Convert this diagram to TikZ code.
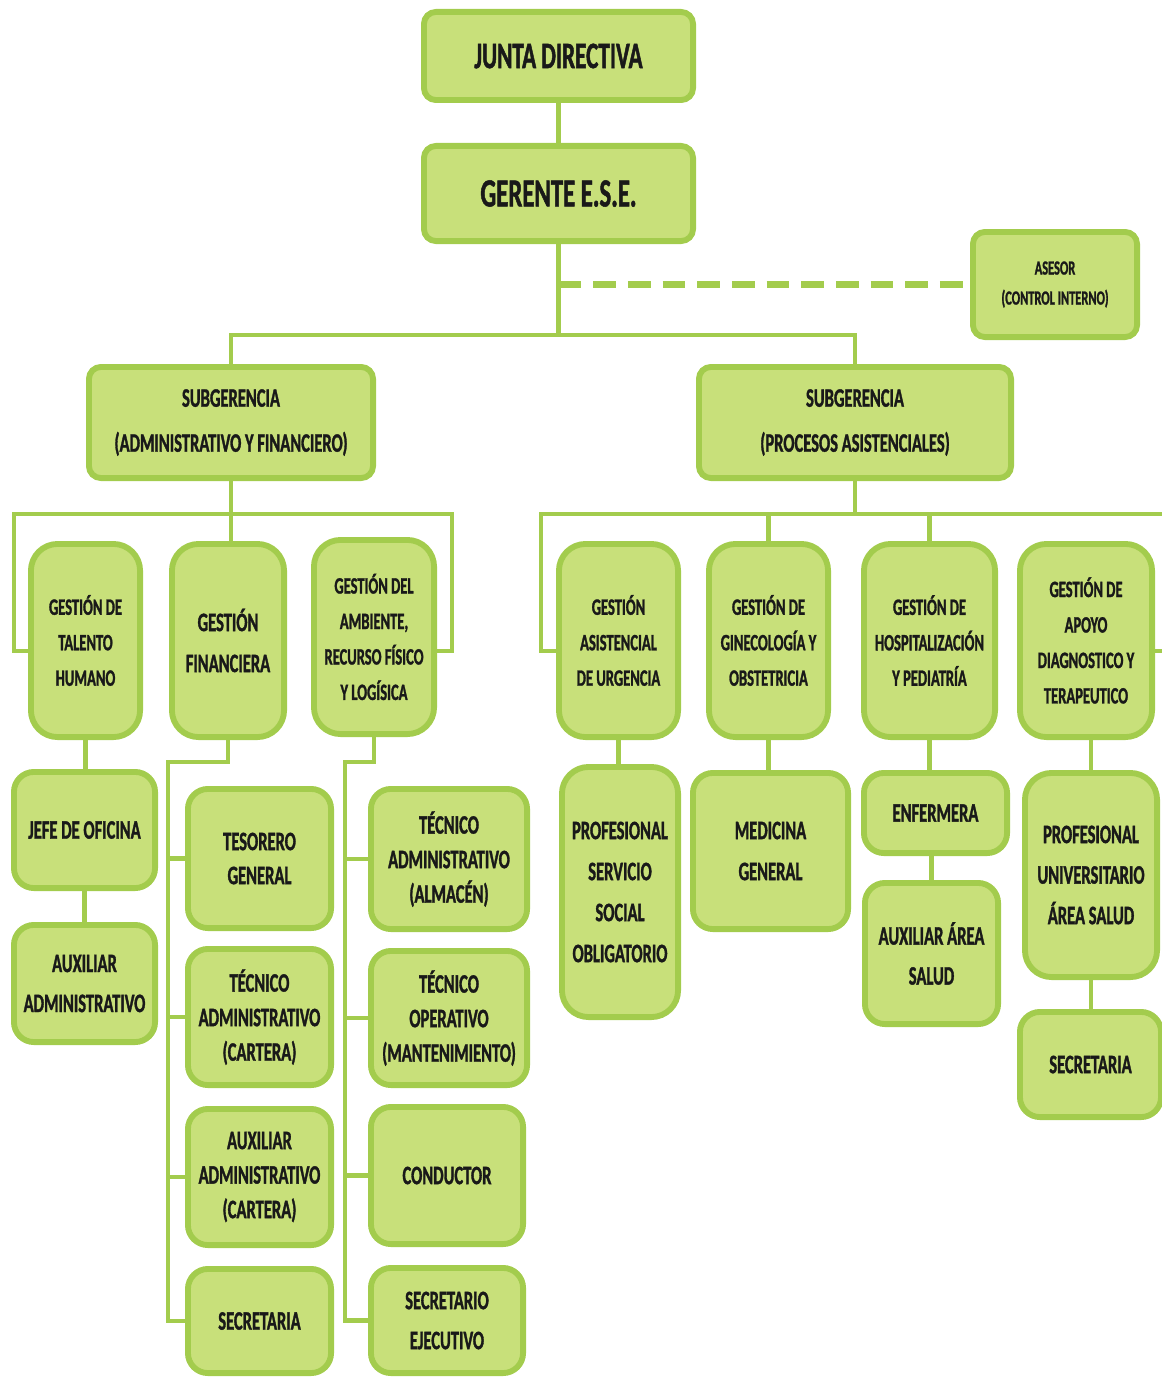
\documentclass[tikz,border=0pt]{standalone}
\usepackage{fontspec}
\setmainfont{Carlito}[FakeStretch=0.62, BoldFeatures={FakeBold=1.2}]
\definecolor{boxfill}{RGB}{200,224,122}
\definecolor{boxline}{RGB}{163,204,77}
\newcommand\orgbox[7][]{%
  \node[ob,#1,minimum width={(#5-#3)*0.75pt-4.4pt},minimum height={(#6-#4)*0.75pt-4.4pt}] (#2) at ({(#3+#5)/2},{(#4+#6)/2}) {#7};}
\tikzset{
  ob/.style={draw=boxline, fill=boxfill, line width=4.4pt, rounded corners=15pt, align=center, inner sep=0pt, text=black!90},
  fA/.style={font=\bfseries\fontsize{28}{34}\selectfont},
  fAA/.style={font=\bfseries\fontsize{30}{36}\selectfont},
  fB/.style={font=\bfseries\fontsize{20}{#1}\selectfont},
  fC/.style={font=\bfseries\fontsize{17.6}{26.6}\selectfont},
  fD/.style={font=\bfseries\fontsize{15}{22.5}\selectfont},
  rs/.style={rounded corners=9pt},
  rl/.style={rounded corners=20pt},
  conn/.style={draw=boxline, line width=3.6pt},
  dashline/.style={draw=boxline, line width=5.5pt, dash pattern=on 17pt off 9pt},
}
\begin{document}
\begin{tikzpicture}[x=0.75pt,y=-0.75pt]
\useasboundingbox (0,0) rectangle (1162,1377);
\clip (0,0) rectangle (1162,1377);
% top
\orgbox[fA,rs]{jd}{421}{9}{696}{103}{JUNTA DIRECTIVA}
\orgbox[fAA,rs]{ger}{421}{143}{696}{244}{GERENTE E.S.E.}
\orgbox[fD,rs]{ase}{970}{229}{1140}{340}{ASESOR\\(CONTROL INTERNO)}
\orgbox[fB=33.75,rs]{subA}{86}{364}{376}{481}{SUBGERENCIA\\(ADMINISTRATIVO Y FINANCIERO)}
\orgbox[fB=33.75,rs]{subP}{696}{364}{1014}{481}{SUBGERENCIA\\(PROCESOS ASISTENCIALES)}
% level 3
\orgbox[fC,rl]{tal}{28}{541}{143}{740}{GESTIÓN DE\\TALENTO\\HUMANO}
\orgbox[fB=30.75,rl]{fin}{169}{541}{287}{740}{GESTIÓN\\FINANCIERA}
\orgbox[fC,rl]{amb}{311}{537}{437}{737}{GESTIÓN DEL\\AMBIENTE,\\RECURSO FÍSICO\\Y LOGÍSICA}
\orgbox[fC,rl]{urg}{556}{541}{681}{740}{GESTIÓN\\ASISTENCIAL\\DE URGENCIA}
\orgbox[fC,rl]{gin}{706}{541}{831}{740}{GESTIÓN DE\\GINECOLOGÍA Y\\OBSTETRICIA}
\orgbox[fC,rl]{hos}{861}{541}{998}{740}{GESTIÓN DE\\HOSPITALIZACIÓN\\Y PEDIATRÍA}
\orgbox[fC,rl]{apo}{1017}{541}{1155}{740}{GESTIÓN DE\\APOYO\\DIAGNOSTICO Y\\TERAPEUTICO}
% level 4 left
\orgbox[fB=30]{jefe}{11}{769}{158}{891}{JEFE DE OFICINA}
\orgbox[fB=30]{auxA}{11}{922}{158}{1045}{AUXILIAR\\ADMINISTRATIVO}
\orgbox[fB=25.5]{tes}{185}{786}{334}{931}{TESORERO\\GENERAL}
\orgbox[fB=25.9]{tcar}{185}{946}{334}{1088}{TÉCNICO\\ADMINISTRATIVO\\(CARTERA)}
\orgbox[fB=25.9]{acar}{185}{1106}{334}{1248}{AUXILIAR\\ADMINISTRATIVO\\(CARTERA)}
\orgbox[fB=30]{sec1}{185}{1266}{334}{1376}{SECRETARIA}
\orgbox[fB=25.9]{talm}{368}{786}{530}{932}{TÉCNICO\\ADMINISTRATIVO\\(ALMACÉN)}
\orgbox[fB=25.9]{top}{368}{948}{530}{1088}{TÉCNICO\\OPERATIVO\\(MANTENIMIENTO)}
\orgbox[fB=30]{con}{368}{1104}{526}{1247}{CONDUCTOR}
\orgbox[fB=30]{sej}{368}{1265}{526}{1376}{SECRETARIO\\EJECUTIVO}
% level 4 right
\orgbox[fB=30.75,rl]{pss}{559}{764}{681}{1020}{PROFESIONAL\\SERVICIO\\SOCIAL\\OBLIGATORIO}
\orgbox[fB=30.75]{med}{690}{770}{851}{932}{MEDICINA\\GENERAL}
\orgbox[fB=30]{enf}{861}{770}{1010}{856}{ENFERMERA}
\orgbox[fB=30]{aas}{862}{880}{1001}{1027}{AUXILIAR ÁREA\\SALUD}
\orgbox[fB=30.4,rl]{pua}{1022}{770}{1160}{980}{PROFESIONAL\\UNIVERSITARIO\\ÁREA SALUD}
\orgbox[fB=30]{sec2}{1017}{1009}{1164}{1120}{SECRETARIA}
% helper coordinates
\coordinate (barTop) at (0,335);
\coordinate (sy) at (0,651);
\coordinate (LbL) at (14,514);
\coordinate (LbR) at (452,514);
\coordinate (RbL) at (541,514);
\coordinate (RbR) at (1178,514);
\coordinate (fy) at (0,762);
\coordinate (fx) at (168,0);
\coordinate (ax) at (345,0);
% connectors top
\draw[conn] (jd.south) -- (ger.north);
\draw[conn] (ger.south) -- (ger.south |- barTop);
\draw[conn] (subA.north) |- (ger.south |- barTop) -| (subP.north);
\draw[dashline] (ger.south |- ase.west) -- (ase.west);
% left bracket
\draw[conn] (subA.south) -- (subA.south |- fin.north);
\draw[conn] (tal.west |- sy) -| (LbL) -- (LbR) |- (amb.east |- sy);
% right bracket
\draw[conn] (subP.south) -- (subP.south |- RbL);
\draw[conn] (urg.west |- sy) -| (RbL) -- (RbR) |- (apo.east |- sy);
\draw[conn] (gin.north) -- (gin.north |- RbL);
\draw[conn] (hos.north) -- (hos.north |- RbL);
% left level 4
\draw[conn] (tal.south) -- (tal.south |- jefe.north);
\draw[conn] (jefe.south) -- (jefe.south |- auxA.north);
\draw[conn] (fin.south) -- (fin.south |- fy) -| (fx |- sec1.west) -- (sec1.west);
\draw[conn] (fx |- tes.west) -- (tes.west);
\draw[conn] (fx |- tcar.west) -- (tcar.west);
\draw[conn] (fx |- acar.west) -- (acar.west);
\draw[conn] (amb.south) -- (amb.south |- fy) -| (ax |- sej.west) -- (sej.west);
\draw[conn] (ax |- talm.west) -- (talm.west);
\draw[conn] (ax |- top.west) -- (top.west);
\draw[conn] (ax |- con.west) -- (con.west);
% right level 4
\draw[conn] (urg.south) -- (urg.south |- pss.north);
\draw[conn] (gin.south) -- (gin.south |- med.north);
\draw[conn] (hos.south) -- (hos.south |- enf.north);
\draw[conn] (aas.north |- enf.south) -- (aas.north);
\draw[conn] (pua.north |- apo.south) -- (pua.north);
\draw[conn] (pua.south) -- (pua.south |- sec2.north);
\end{tikzpicture}
\end{document}
